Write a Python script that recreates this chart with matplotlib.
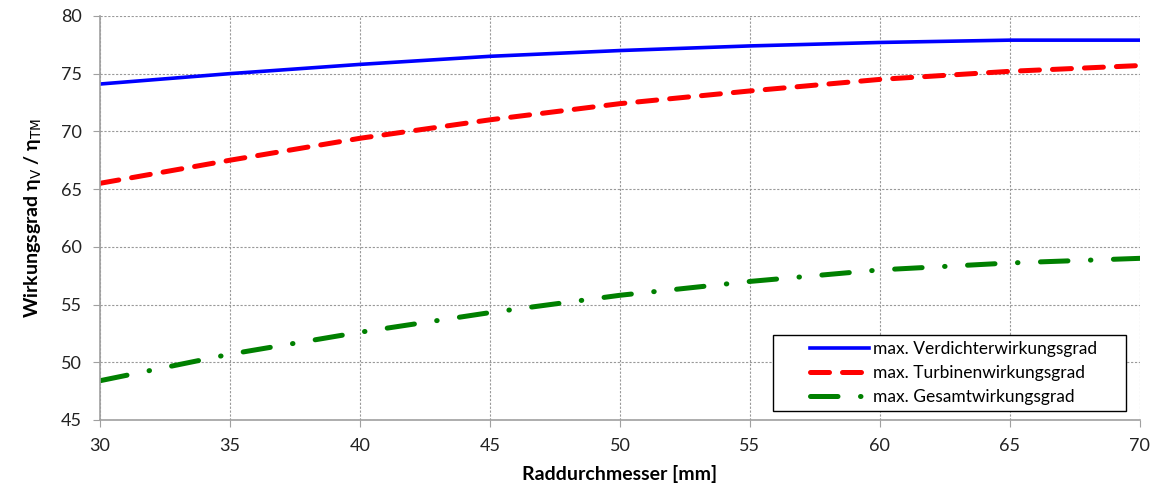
import matplotlib
matplotlib.use("Agg")
import matplotlib.pyplot as plt
from matplotlib.patches import Rectangle

plt.rcParams['font.family'] = ['Lato', 'DejaVu Sans']

# Raddurchmesser [mm]
d_mm = [30, 35, 40, 45, 50, 55, 60, 65, 70]

eta_verdichter = [74.1, 75.0, 75.8, 76.5, 77.0, 77.4, 77.7, 77.9, 77.9]
eta_turbine    = [65.5, 67.5, 69.4, 71.0, 72.4, 73.5, 74.5, 75.2, 75.7]
eta_gesamt     = [48.4, 50.7, 52.6, 54.3, 55.8, 57.0, 58.0, 58.6, 59.0]

labels = ["max. Verdichterwirkungsgrad",
          "max. Turbinenwirkungsgrad",
          "max. Gesamtwirkungsgrad"]

fig = plt.figure(figsize=(11.54, 4.97), dpi=100)
ax = fig.add_axes([0.0867, 0.155, 0.901, 0.813])

ax.plot(d_mm, eta_verdichter, color="#0000ff", lw=2.6, label=labels[0])
ax.plot(d_mm, eta_turbine, color="#ff0000", lw=3.6, ls=(0, (3.8, 2.6)),
        dash_capstyle="round", label=labels[1])
ax.plot(d_mm, eta_gesamt, color="#008000", lw=3.6, ls=(0, (5.5, 4.5, 0.1, 4.5)),
        dash_capstyle="round", label=labels[2])

ax.set_xlim(30, 70)
ax.set_ylim(45, 80)
ax.set_xticks(range(30, 71, 5))
ax.set_yticks(range(45, 81, 5))

ax.grid(True, color="#999999", ls=(0, (2, 1.5)), lw=0.8)
for s in ["top", "right"]:
    ax.spines[s].set_visible(False)
for s in ["left", "bottom"]:
    ax.spines[s].set_color("#a0a0a0")
    ax.spines[s].set_linewidth(1.2)
ax.tick_params(colors="#a0a0a0", labelcolor="#222222", labelsize=13, length=5, pad=8)

ax.set_xlabel("Raddurchmesser [mm]", fontsize=14, fontweight="bold", labelpad=8)
ax.set_ylabel(r"Wirkungsgrad η$_{\mathrm{V}}$ / η$_{\mathrm{TM}}$", fontsize=14,
              fontweight="bold", labelpad=12)

# legend box like the original (frame drawn separately)
ax.add_patch(Rectangle((0.647, 0.022), 0.340, 0.188, transform=ax.transAxes,
                       facecolor="white", edgecolor="black", lw=1.0, zorder=4))
leg = ax.legend(loc="center left", bbox_to_anchor=(0.683, 0.116), fontsize=12.5,
                handlelength=3.4, handletextpad=0.2, frameon=False,
                borderpad=0, borderaxespad=0, labelspacing=0.45)
leg.set_zorder(5)

fig.savefig("out.png", dpi=100)
